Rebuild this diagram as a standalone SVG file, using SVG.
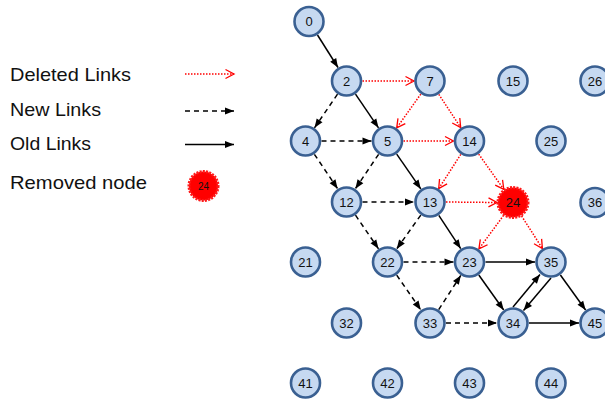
<svg xmlns="http://www.w3.org/2000/svg" width="605" height="400" viewBox="0 0 605 400">
  <style>
    .node circle { fill: #c6d9f1; stroke: #3a6092; stroke-width: 2.6; }
    .node text, .removed text { font-family: "Liberation Sans", Arial, sans-serif; font-size: 13px; fill: #111; text-anchor: middle; dominant-baseline: central; }
    .removed circle { fill: #ff0000; stroke: #ff1a1a; stroke-width: 3; stroke-dasharray: 2 1.2; }
    .old { stroke: #000; stroke-width: 1.5; fill: none; marker-end: url(#arrowBlack); }
    .new { stroke: #000; stroke-width: 1.5; fill: none; stroke-dasharray: 5 4; marker-end: url(#arrowBlack); }
    .del { stroke: #ff0000; stroke-width: 1.5; fill: none; stroke-dasharray: 1.5 1.5; marker-end: url(#arrowRed); }
    .legend text { font-family: "Liberation Sans", Arial, sans-serif; font-size: 18.5px; fill: #111; }
  </style>
  <defs>
    <marker id="arrowBlack" markerUnits="userSpaceOnUse" markerWidth="10" markerHeight="8" refX="9" refY="3.5" orient="auto" overflow="visible">
      <path d="M0,0 L9,3.5 L0,7 z" fill="#000"/>
    </marker>
    <marker id="arrowRed" markerUnits="userSpaceOnUse" markerWidth="10" markerHeight="10" refX="8.5" refY="4.5" orient="auto" overflow="visible">
      <path d="M0,0 L8.5,4.5 L0,9" fill="none" stroke="#ff0000" stroke-width="1.3"/>
    </marker>
  </defs>

  <!-- legend -->
  <g id="legend" class="legend">
    <text x="10" y="81" textLength="121" lengthAdjust="spacingAndGlyphs">Deleted Links</text>
    <text x="10" y="116" textLength="91" lengthAdjust="spacingAndGlyphs">New Links</text>
    <text x="10" y="150" textLength="81" lengthAdjust="spacingAndGlyphs">Old Links</text>
    <text x="10" y="189" textLength="137" lengthAdjust="spacingAndGlyphs">Removed node</text>
    <line class="del" x1="185" y1="74" x2="234" y2="74"/>
    <line class="new" x1="185" y1="111" x2="234" y2="111"/>
    <line class="old" x1="185" y1="144.5" x2="234" y2="144.5"/>
    <g class="removed">
      <circle cx="203.5" cy="186" r="14.5"/>
      <text x="203.5" y="186" style="font-size:10px">24</text>
    </g>
  </g>

  <!-- connectors -->
  <g id="connectors">
    <!-- old links -->
    <line class="old" x1="317.5" y1="35" x2="338" y2="67.5"/>
    <line class="old" x1="355.5" y1="94.2" x2="378.5" y2="127.8"/>
    <line class="old" x1="396.7" y1="154.1" x2="420.8" y2="188.9"/>
    <line class="old" x1="438.8" y1="215.4" x2="460.7" y2="248.6"/>
    <line class="old" x1="485.5" y1="262" x2="535" y2="262"/>
    <line class="old" x1="478.8" y1="275" x2="503.7" y2="310"/>
    <line class="old" x1="513" y1="307" x2="540" y2="274.5"/>
    <line class="old" x1="551" y1="278" x2="523.5" y2="310.5"/>
    <line class="old" x1="560.4" y1="275" x2="585.6" y2="310"/>
    <line class="old" x1="529" y1="323" x2="579" y2="323"/>
    <!-- new links -->
    <line class="new" x1="337.5" y1="94.2" x2="314.5" y2="127.8"/>
    <line class="new" x1="321.5" y1="141" x2="371.5" y2="141"/>
    <line class="new" x1="314.4" y1="154.3" x2="337.6" y2="188.7"/>
    <line class="new" x1="378.6" y1="154.3" x2="355.4" y2="188.7"/>
    <line class="new" x1="362.5" y1="202" x2="414" y2="202"/>
    <line class="new" x1="355.5" y1="215.2" x2="378.5" y2="248.8"/>
    <line class="new" x1="420.8" y1="215.1" x2="396.7" y2="248.9"/>
    <line class="new" x1="403.5" y1="262" x2="453.5" y2="262"/>
    <line class="new" x1="396.7" y1="275.1" x2="420.8" y2="309.9"/>
    <line class="new" x1="438.7" y1="309.6" x2="460.8" y2="275.4"/>
    <line class="new" x1="446" y1="323" x2="497" y2="323"/>
    <!-- deleted links -->
    <line class="del" x1="362.5" y1="81" x2="414" y2="81"/>
    <line class="del" x1="420.8" y1="94.1" x2="396.7" y2="127.9"/>
    <line class="del" x1="438.8" y1="94.4" x2="460.7" y2="127.6"/>
    <line class="del" x1="403.5" y1="141" x2="453.5" y2="141"/>
    <line class="del" x1="460.8" y1="154.4" x2="438.7" y2="188.6"/>
    <line class="del" x1="478.7" y1="154.1" x2="503.8" y2="189.4"/>
    <line class="del" x1="446" y1="202" x2="497" y2="202.5"/>
    <line class="del" x1="503.6" y1="215.4" x2="478.9" y2="248.9"/>
    <line class="del" x1="521.6" y1="216" x2="542.4" y2="248.5"/>
  </g>

  <!-- nodes -->
  <g id="n0" class="node"><circle cx="309" cy="21.5" r="14.5"/><text x="309" y="21.5">0</text></g>
  <g id="n2" class="node"><circle cx="346.5" cy="81" r="14.5"/><text x="346.5" y="81">2</text></g>
  <g id="n7" class="node"><circle cx="430" cy="81" r="14.5"/><text x="430" y="81">7</text></g>
  <g id="n15" class="node"><circle cx="513" cy="81" r="14.5"/><text x="513" y="81">15</text></g>
  <g id="n26" class="node"><circle cx="595" cy="81" r="14.5"/><text x="595" y="81">26</text></g>
  <g id="n4" class="node"><circle cx="305.5" cy="141" r="14.5"/><text x="305.5" y="141">4</text></g>
  <g id="n5" class="node"><circle cx="387.5" cy="141" r="14.5"/><text x="387.5" y="141">5</text></g>
  <g id="n14" class="node"><circle cx="469.5" cy="141" r="14.5"/><text x="469.5" y="141">14</text></g>
  <g id="n25" class="node"><circle cx="551" cy="141" r="14.5"/><text x="551" y="141">25</text></g>
  <g id="n12" class="node"><circle cx="346.5" cy="202" r="14.5"/><text x="346.5" y="202">12</text></g>
  <g id="n13" class="node"><circle cx="430" cy="202" r="14.5"/><text x="430" y="202">13</text></g>
  <g id="n24" class="removed"><circle cx="513" cy="202.5" r="15"/><text x="513" y="202.5">24</text></g>
  <g id="n36" class="node"><circle cx="595" cy="202.5" r="14.5"/><text x="595" y="202.5">36</text></g>
  <g id="n21" class="node"><circle cx="305.5" cy="262" r="14.5"/><text x="305.5" y="262">21</text></g>
  <g id="n22" class="node"><circle cx="387.5" cy="262" r="14.5"/><text x="387.5" y="262">22</text></g>
  <g id="n23" class="node"><circle cx="469.5" cy="262" r="14.5"/><text x="469.5" y="262">23</text></g>
  <g id="n35" class="node"><circle cx="551" cy="262" r="14.5"/><text x="551" y="262">35</text></g>
  <g id="n32" class="node"><circle cx="346.5" cy="323" r="14.5"/><text x="346.5" y="323">32</text></g>
  <g id="n33" class="node"><circle cx="430" cy="323" r="14.5"/><text x="430" y="323">33</text></g>
  <g id="n34" class="node"><circle cx="513" cy="323" r="14.5"/><text x="513" y="323">34</text></g>
  <g id="n45" class="node"><circle cx="595" cy="323" r="14.5"/><text x="595" y="323">45</text></g>
  <g id="n41" class="node"><circle cx="305.5" cy="383" r="14.5"/><text x="305.5" y="383">41</text></g>
  <g id="n42" class="node"><circle cx="387.5" cy="383" r="14.5"/><text x="387.5" y="383">42</text></g>
  <g id="n43" class="node"><circle cx="469.5" cy="383" r="14.5"/><text x="469.5" y="383">43</text></g>
  <g id="n44" class="node"><circle cx="551" cy="383" r="14.5"/><text x="551" y="383">44</text></g>
</svg>
